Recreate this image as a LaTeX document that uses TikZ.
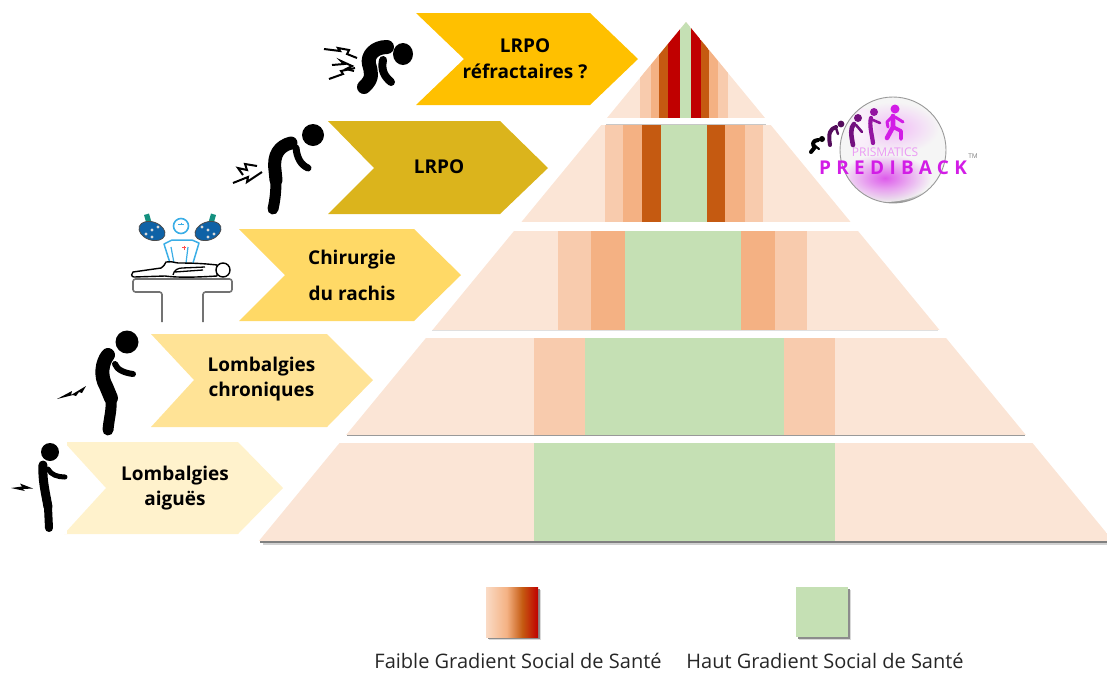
\documentclass[tikz,border=0pt]{standalone}
\usepackage{fontspec}
\setmainfont{Open Sans}
\newfontfamily\logofont[LetterSpace=28]{Open Sans}
\usetikzlibrary{calc}
\definecolor{peach}{HTML}{FBE5D6}
\definecolor{o1}{HTML}{F8CBAD}
\definecolor{o2}{HTML}{F4B183}
\definecolor{o3}{HTML}{C55A11}
\definecolor{o4}{HTML}{C00000}
\definecolor{gr}{HTML}{C5E0B4}
\definecolor{chA}{HTML}{FFC000}
\definecolor{chB}{HTML}{DBB41C}
\definecolor{chC}{HTML}{FFD966}
\definecolor{chD}{HTML}{FFE396}
\definecolor{chE}{HTML}{FFF2CC}
\definecolor{lampblue}{HTML}{0F62A6}
\definecolor{lampgreen}{HTML}{14907F}
\definecolor{cyanline}{HTML}{3BAEE6}
\definecolor{logomag}{HTML}{D21DE6}
\pgfdeclarehorizontalshading{legendgrad}{100bp}{color(0bp)=(o1!70!white); color(25bp)=(o1!70!white); color(45bp)=(o2); color(60bp)=(o3); color(75bp)=(o4); color(100bp)=(o4)}
\tikzset{
  chevlabel/.style={align=center,text=black,inner sep=0pt},
  person/.style={draw=black,line cap=round,line join=round,line width=#1},
  person/.default=10,
  boltline/.style={draw=black,line width=2,line join=miter,miter limit=10},
  legendtext/.style={font=\fontsize{20}{22}\selectfont,text=black!85,inner sep=0pt,anchor=base},
}
% pyramid layer: #1 top y, #2 bottom y, #3 stripes
\newcommand{\layer}[3]{%
  \pgfmathsetmacro{\wt}{(#1-22)*0.823}\pgfmathsetmacro{\wb}{(#2-22)*0.823}%
  \begin{scope}
    \clip (686-\wt,#1) -- (686+\wt,#1) -- (686+\wb,#2) -- (686-\wb,#2) -- cycle;
    \fill[peach] (200,#1) rectangle (1200,#2);
    \foreach \a/\b/\c in {#3}{\fill[\c] (\a,#1) rectangle (\b,#2);}
  \end{scope}}
\newcommand{\chevron}[8]{% left, shoulder, tip, notch, top, mid, bottom, colour
  \fill[#8] (#1,#5) -- (#2,#5) -- (#3,#6) -- (#2,#7) -- (#1,#7) -- (#4,#6) -- cycle;}
\begin{document}
\begin{tikzpicture}[x=1pt,y=-1pt]
\useasboundingbox (0,0) rectangle (1107,673);
\begin{scope}
\clip (0,0) rectangle (1107,673);
% shadows
\fill[black!50] (260,541) rectangle (1112,543);
\fill[black!18] (263,543) rectangle (1107,545);
\fill[black!40] (347,435) rectangle (1025,436);
\fill[black!12] (432,330) rectangle (938,331);
\fill[black!22] (606,123.5) rectangle (766,124.5);
% pyramid
\layer{443}{541}{534/835/gr}
\layer{338}{435}{534/585/o1,585/784/gr,784/835/o1}
\layer{231}{330}{558/591/o1,591/625/o2,625/741/gr,741/775/o2,775/807/o1}
\layer{125}{222}{605/623/o1,623/642/o2,642/661/o3,661/707/gr,707/725/o3,725/745/o2,745/763/o1}
\layer{22}{118}{640/651/o1,651/659/o2,659/668/o3,668/680/o4,680/691/gr,691/701/o4,701/709/o3,709/718/o2,718/728/o1}
\end{scope}
% chevrons
\chevron{416}{590}{638}{464}{13}{59}{105}{chA}
\chevron{328}{500}{548}{374}{121}{168}{214}{chB}
\chevron{239}{414}{461}{285}{229}{275}{321}{chC}
\chevron{151}{327}{373}{194}{334}{380}{427}{chD}
\chevron{64}{238}{283}{106}{442}{488}{534}{chE}
\node[chevlabel,font=\bfseries\fontsize{19}{26}\selectfont] (t1) at (525,59) {LRPO\\réfractaires ?};
\node[chevlabel,font=\bfseries\fontsize{19}{26}\selectfont] (t2) at (439,167) {LRPO};
\node[chevlabel,font=\bfseries\fontsize{19}{36}\selectfont] (t3) at (352,275) {Chirurgie\\du rachis};
\node[chevlabel,font=\bfseries\fontsize{19}{25}\selectfont] (t4) at (261.5,379) {Lombalgies\\chroniques};
\node[chevlabel,font=\bfseries\fontsize{19}{25}\selectfont] (t5) at (175,488) {Lombalgies\\aiguës};
% figure: acute
\fill[white] (28,442) rectangle (67,534);
\fill[black] (50,452) circle (9);
\draw[person=9] (43,465) .. controls (42,480) and (46,495) .. (48,507);
\draw[person=8] (48,507) -- (49,528);
\draw[person=5] (48,469) .. controls (51,475) and (58,477) .. (65,477);
\path[fill=black] (11,488) -- (22,486.5) -- (20,483.5) -- (33,488.5) -- (23,489) -- (25,491) -- cycle;
% figure: chronic
\fill[black] (127,342) circle (11.5);
\draw[person=14] (108,355) .. controls (102,362) and (100,376) .. (106,386) -- (111,398);
\draw[person=11] (111,398) .. controls (112,410) and (109,418) .. (108,430);
\draw[person=6] (115,364) .. controls (117,370) and (125,373) .. (133,374);
\path[fill=black] (57,399) -- (72,391) -- (71,395) -- (86,386) -- (82,393) -- (79,392) -- (76,396) -- (73,395) -- cycle;
% figure: LRPO
\fill[black] (313,135) circle (11);
\draw[person=13] (291,143) .. controls (279,146) and (273,155) .. (275,170) -- (276,180);
\draw[person=11] (276,180) .. controls (276,192) and (275,200) .. (273,209);
\draw[person=7] (296,148) .. controls (297,158) and (301,165) .. (308,168);
\draw[boltline] (233,183) -- (248,177) -- (247,182) -- (262,172);
\draw[boltline] (257,166) -- (245,164) -- (247,170) -- (238,168) -- (243,175);
% figure: crouching
\fill[black] (403,54) ellipse (10 and 11);
\draw[person=14] (387,47) .. controls (374,47) and (367,56) .. (369,64) .. controls (371,72) and (374,78) .. (364,87);
\draw[person=8] (383,60) .. controls (381,70) and (384,76) .. (391,82);
\draw[boltline] (324,49) -- (340,51) -- (338,48) -- (349,50) -- (347,54) -- (357,58);
\draw[boltline] (332,65) -- (344,64) -- (341,61) -- (352,66) -- (346,69) -- (354,71);
\draw[boltline] (329,79) -- (343,74) -- (341,71) -- (355,68);
% figure: surgery
\fill[lampgreen] (144,215) -- (149,213.5) -- (152,224) -- (147,225.5) -- cycle;
\draw[black!70,fill=lampblue,line width=.8,rotate around={-20:(152,231)}] (152,231) ellipse (13.5 and 9);
\foreach \p in {(146,234),(152,230),(158,227),(152,237)}{\fill[black!15] \p circle (1.7);}
\fill[lampgreen] (211,213.5) -- (216,215) -- (213,225.5) -- (208,224) -- cycle;
\draw[black!70,fill=lampblue,line width=.8,rotate around={20:(208,231)}] (208,231) ellipse (13.5 and 9);
\foreach \p in {(202,227),(208,230),(214,234),(208,237)}{\fill[black!15] \p circle (1.7);}
\draw[cyanline,line width=1.6] (181,226) circle (7.5);
\draw[cyanline,line width=.6] (178,224) -- (184,224) (181,222.5) -- (181,225);
\draw[cyanline,line width=1.5,line join=round] (170,263) -- (164,244) -- (172,240) -- (192,240) -- (199,243) -- (193,263);
\draw[cyanline,line width=1.2] (171,247) -- (174,263) (188,247) -- (186,263);
\draw[red!70,line width=.4] (182,247.5) -- (186,247.5) (184,245.5) -- (184,249.5);
\draw[black,fill=white,line width=1.4,line join=round] (133,272) .. controls (131,273) and (131,277) .. (134,277) -- (165,276) .. controls (180,278) and (200,277) .. (217,276) -- (217,265) .. controls (200,263) and (185,263) .. (178,263) .. controls (172,262) and (170,261) .. (166,262) .. controls (165,264) and (164,266) .. (161,268) -- cycle;
\draw[black,line width=1.3] (173,275) .. controls (174,270) and (178,268) .. (182,268) -- (205,267) (175,272) -- (203,270);
\draw[black,fill=white,line width=1.4] (223,270) circle (7);
\draw[black!55,line width=1.6,rounded corners=2.5] (162,322) -- (162,292) -- (133,292) -- (133,279) -- (232,279) -- (232,292) -- (203,292) -- (203,322);
% logo
\begin{scope}
  \clip (893,150) circle (53);
  \fill[black!4] (893,150) circle (53);
  \shade[inner color=black!75,outer color=black!4] (893,214) ellipse (60 and 26);
  \shade[inner color=logomag!80,outer color=black!4,opacity=.9] (885,178) ellipse (46 and 24);
  \shade[inner color=logomag!30,outer color=black!4] (893,128) ellipse (46 and 26);
  \shade[inner color=white,outer color=logomag!10,opacity=.7] (862,128) ellipse (12 and 20);
\end{scope}
\draw[black!40,line width=.9] (893,150) circle (53);
\node[font=\fontsize{12}{14}\selectfont,text=logomag!45,inner sep=0pt] (prism) at (885,152) {PRISMATICS};
\node[font=\logofont\bfseries\fontsize{19}{22}\selectfont,text=logomag,inner sep=0pt] (pred) at (893,168) {PREDIBACK};
\node[font=\fontsize{6.5}{7}\selectfont,text=black!50,inner sep=0pt] (tm) at (973,156) {TM};
% logo walkers
\fill[black] (822,139) circle (3);
\draw[person=4] (818,140) .. controls (812,140) and (812,146) .. (815,147) -- (811,152);
\draw[person=2.2] (815,146) -- (819,149);
\fill[black!60!logomag] (841,124) circle (3.4);
\draw[person=4,draw=black!60!logomag] (836,127) .. controls (830,129) and (828,133) .. (830,145);
\draw[person=2.4,draw=black!60!logomag] (836,128) -- (838,134);
\fill[black!45!logomag] (858,118) circle (4);
\draw[person=4.6,draw=black!45!logomag] (854,124) .. controls (850,128) and (851,135) .. (853,145);
\draw[person=2.6,draw=black!45!logomag] (856,125) -- (862,132);
\fill[black!30!logomag] (874,112) circle (4);
\draw[person=4.2,draw=black!30!logomag] (871,118) .. controls (869,125) and (872,135) .. (873,143);
\draw[person=2.6,draw=black!30!logomag] (873,120) -- (880,123);
\fill[logomag] (895,109) circle (4.5);
\draw[person=4.6,draw=logomag] (893,116) -- (893,127) -- (887,138);
\draw[person=3.6,draw=logomag] (893,127) -- (901,131) -- (901,139);
\draw[person=3,draw=logomag] (893,116) -- (887,122) -- (888,127) (895,117) -- (903,122);
% legend
\fill[black!15] (489,590) rectangle (541,640);
\fill[black!45] (488,589) rectangle (540,638.5);
\shade[shading=legendgrad] (486,587) rectangle (538,637);
\fill[black!15] (799,590) rectangle (851,640);
\fill[black!45] (798,589) rectangle (850,638.5);
\fill[gr] (796,587) rectangle (848,637);
\node[legendtext] (lg1) at (518,668.5) {Faible Gradient Social de Santé};
\node[legendtext] (lg2) at (825,668.5) {Haut Gradient Social de Santé};
\end{tikzpicture}
\end{document}
